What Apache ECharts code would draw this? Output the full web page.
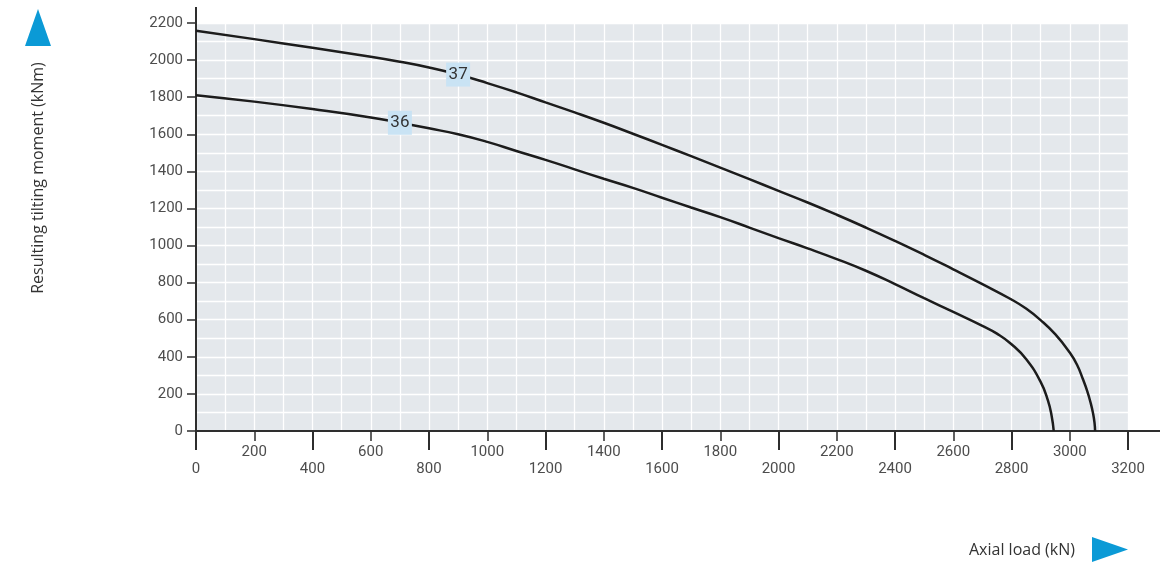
<!DOCTYPE html>
<html>
<head>
<meta charset="utf-8">
<script src="https://cdn.jsdelivr.net/npm/echarts@6/dist/echarts.min.js"></script>
<style>
  html, body { margin: 0; padding: 0; background: #fff; }
  #chart { width: 1161px; height: 562px; }
</style>
</head>
<body>
<div id="chart"></div>
<script>
// curve 37
const load37 = [0, 200, 400, 600, 700, 800, 900, 1000, 1100, 1200, 1300, 1400, 1500, 1600, 1700, 1800, 1900, 2000, 2100, 2200, 2300, 2400, 2500, 2600, 2700, 2800, 2850, 2900, 2950, 3000, 3025, 3045, 3060, 3072, 3080, 3085, 3087];
const moment37 = [2158, 2113, 2066, 2018, 1991, 1960, 1922, 1876, 1826, 1772, 1718, 1662, 1603, 1543, 1482, 1420, 1358, 1295, 1232, 1166, 1097, 1025, 950, 872, 792, 709, 660, 598, 522, 423, 357, 280, 215, 150, 95, 45, 0];
// curve 36
const load36 = [0, 200, 400, 600, 700, 800, 900, 1000, 1100, 1200, 1300, 1400, 1500, 1600, 1700, 1800, 1900, 2000, 2100, 2200, 2300, 2400, 2500, 2600, 2700, 2750, 2800, 2850, 2900, 2925, 2938, 2945];
const moment36 = [1811, 1776, 1736, 1691, 1662, 1632, 1600, 1559, 1510, 1462, 1411, 1360, 1311, 1258, 1205, 1153, 1097, 1040, 985, 927, 864, 792, 716, 642, 567, 525, 468, 388, 265, 165, 80, 0];

const curveNames = ['37', '36'];
const labelAt = [[900, 1922], [700, 1662]];

const xTitle = 'Axial load (kN)';
const yTitle = 'Resulting tilting moment (kNm)';

const lineColor = '#1c1c1c';
const axisColor = '#2e2e2e';
const tickFont = { fontFamily: 'Roboto', fontSize: 15, color: '#4d4d4d' };

function zip(xs, ys) {
    return xs.map((x, i) => [x, ys[i]]);
}

function curve(name, data, at) {
    return {
        name: name,
        type: 'line',
        xAxisIndex: 0,
        data: data,
        smooth: 0.5,
        showSymbol: false,
        lineStyle: { color: lineColor, width: 2.5 },
        markPoint: {
            symbol: 'rect',
            symbolSize: [24, 24],
            itemStyle: { color: '#c9e3f4' },
            label: {
                show: true,
                formatter: name,
                color: '#333',
                fontFamily: 'Roboto',
                fontSize: 17
            },
            data: [{ coord: at }]
        }
    };
}

const chart = echarts.init(document.getElementById('chart'));

const option = {
    animation: false,
    grid: {
        left: 196, top: 23, right: 33, bottom: 131,
        show: true,
        backgroundColor: '#e4e8ec',
        borderWidth: 0
    },
    xAxis: [
        {
            // long ticks, lower row of labels
            type: 'value', min: 0, max: 3200, interval: 400,
            axisLine: { show: true, onZero: false, lineStyle: { color: axisColor, width: 2 } },
            axisTick: { show: true, length: 19, lineStyle: { color: axisColor, width: 2 } },
            axisLabel: Object.assign({ margin: 31, formatter: v => String(v) }, tickFont),
            splitLine: { show: false }
        },
        {
            // short ticks, upper row of labels, grid lines
            type: 'value', min: 0, max: 3200, interval: 200,
            position: 'bottom',
            axisLine: { show: true, onZero: false, lineStyle: { color: axisColor, width: 2 } },
            axisTick: { show: true, length: 10, lineStyle: { color: axisColor, width: 1.5 } },
            axisLabel: Object.assign({
                margin: 14,
                formatter: v => (v % 400 === 0 ? '' : String(v))
            }, tickFont),
            splitLine: { show: true, lineStyle: { color: '#ffffff', width: 1.3 } },
            minorTick: { show: false, splitNumber: 2 },
            minorSplitLine: { show: true, lineStyle: { color: '#ffffff', width: 1.3 } }
        }
    ],
    yAxis: {
        type: 'value', min: 0, max: 2200, interval: 200,
        axisLine: { show: true, onZero: false, lineStyle: { color: axisColor, width: 2 } },
        axisTick: { show: true, length: 9, lineStyle: { color: axisColor, width: 1.5 } },
        axisLabel: Object.assign({ margin: 13, formatter: v => String(v) }, tickFont),
        splitLine: { show: true, lineStyle: { color: '#ffffff', width: 1.3 } },
        minorTick: { show: false, splitNumber: 2 },
        minorSplitLine: { show: true, lineStyle: { color: '#ffffff', width: 1.3 } }
    },
    series: [
        curve(curveNames[0], zip(load37, moment37), labelAt[0]),
        curve(curveNames[1], zip(load36, moment36), labelAt[1])
    ]
};

chart.setOption(option);

// axis extensions, titles and arrow triangles
const origin = chart.convertToPixel({ gridIndex: 0 }, [0, 0]);
const corner = chart.convertToPixel({ gridIndex: 0 }, [3200, 2200]);

chart.setOption({
    graphic: [
        {
            type: 'line',
            shape: { x1: origin[0], y1: corner[1], x2: origin[0], y2: 7 },
            style: { stroke: axisColor, lineWidth: 2 }
        },
        {
            type: 'line',
            shape: { x1: corner[0], y1: origin[1], x2: 1160, y2: origin[1] },
            style: { stroke: axisColor, lineWidth: 2 }
        },
        {
            type: 'text',
            x: 38, y: 178,
            rotation: Math.PI / 2,
            style: {
                text: yTitle,
                fill: '#333',
                font: '16px "Open Sans"',
                textAlign: 'center',
                textVerticalAlign: 'middle'
            }
        },
        {
            type: 'text',
            x: 1075, y: 550,
            style: {
                text: xTitle,
                fill: '#333',
                font: '16px "Open Sans"',
                textAlign: 'right',
                textVerticalAlign: 'middle'
            }
        },
        {
            type: 'polygon',
            shape: { points: [[38, 9], [25, 46], [51, 46]] },
            style: { fill: '#0b9ad6' }
        },
        {
            type: 'polygon',
            shape: { points: [[1092, 537], [1092, 562], [1128, 549.5]] },
            style: { fill: '#0b9ad6' }
        }
    ]
});
</script>
</body>
</html>
